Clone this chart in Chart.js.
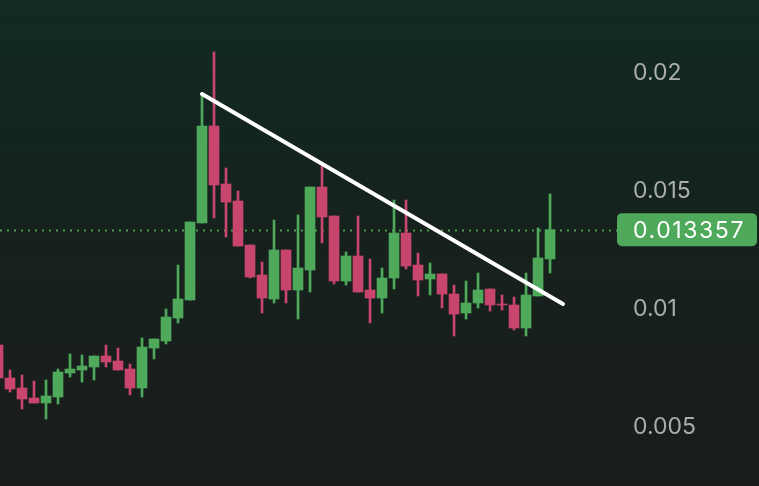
<!DOCTYPE html>
<html>
<head>
<meta charset="utf-8">
<script src="https://cdn.jsdelivr.net/npm/chart.js@4/dist/chart.umd.min.js"></script>
<style>
  html, body { margin: 0; padding: 0; background: #161d1b; }
  #wrap { width: 759px; height: 486px; position: relative; }
</style>
</head>
<body>
<div id="wrap"><canvas id="c" width="759" height="486"></canvas></div>
<script>
// ---- data ----
const opens  = [0.008465,0.007065,0.006641,0.006217,0.006005,0.006259,0.007277,0.007404,0.007532,0.007998,
                0.007786,0.007447,0.006641,0.008337,0.008634,0.009610,0.010373,0.013639,0.017752,0.015293,
                0.014572,0.012706,0.011433,0.010415,0.012493,0.010797,0.011645,0.015165,0.013935,0.011179,
                0.012239,0.010797,0.010458,0.011306,0.013214,0.011857,0.011264,0.011476,0.010627,0.009822,
                0.010246,0.010840,0.010203,0.010161,0.009186,0.010543,0.012112];
const highs  = [0.008465,0.007404,0.007192,0.006938,0.006980,0.007447,0.008083,0.008040,0.007998,0.008465,
                0.008337,0.007659,0.008761,0.008719,0.009992,0.011857,0.013681,0.019152,0.020891,0.015971,
                0.014996,0.012706,0.011985,0.013766,0.012493,0.013978,0.015165,0.016056,0.013935,0.012409,
                0.013935,0.012112,0.011730,0.014614,0.014614,0.012366,0.011942,0.011476,0.011009,0.011179,
                0.011518,0.010840,0.010585,0.010500,0.011518,0.013427,0.014868];
const lows   = [0.007065,0.006471,0.005750,0.006005,0.005326,0.005962,0.007107,0.006895,0.006980,0.007532,
                0.007404,0.006344,0.006259,0.007871,0.008507,0.009398,0.010373,0.013639,0.013851,0.013045,
                0.012663,0.011306,0.009822,0.010246,0.010246,0.009567,0.010712,0.012790,0.011052,0.011009,
                0.010712,0.009398,0.009822,0.010840,0.011688,0.010543,0.010585,0.010034,0.008846,0.009567,
                0.010034,0.009906,0.009949,0.009101,0.008846,0.010543,0.011518];
const closes = [0.007065,0.006599,0.006174,0.006005,0.006302,0.007319,0.007447,0.007574,0.007998,0.007744,
                0.007404,0.006641,0.008380,0.008719,0.009652,0.010415,0.013681,0.017752,0.015250,0.014529,
                0.012663,0.011348,0.010458,0.012493,0.010797,0.011730,0.015165,0.013893,0.011179,0.012239,
                0.010712,0.010458,0.011306,0.013214,0.011815,0.011221,0.011476,0.010627,0.009779,0.010246,
                0.010797,0.010161,0.010161,0.009186,0.010585,0.012154,0.013357];
const yTickValues = [0.005, 0.01, 0.015, 0.02];
const lastPrice = 0.013357;
const trendStart = { i: 17, v: 0.019109 };
const trendEnd   = { i: 47.08, v: 0.010203 };

// ---- styles ----
const UP = '#4ea95a';
const DOWN = '#c8466d';
const FONT = 'Inter, "Liberation Sans", sans-serif';

const idx = opens.map((_, i) => i);
const colors = idx.map(i => closes[i] >= opens[i] ? UP : DOWN);
const bodies = idx.map(i => ({ x: i, y: [opens[i], closes[i]] }));
const wicks  = idx.map(i => ({ x: i, y: [lows[i], highs[i]] }));

const bgPlugin = {
  id: 'bg',
  beforeDraw(chart) {
    const { ctx, width, height } = chart;
    const g = ctx.createLinearGradient(0, 0, 0, height);
    g.addColorStop(0, '#122a24');
    g.addColorStop(0.5, '#16211d');
    g.addColorStop(1, '#1a1c1c');
    ctx.save();
    ctx.fillStyle = g;
    ctx.fillRect(0, 0, width, height);
    ctx.restore();
  }
};

const priceLinePlugin = {
  id: 'priceLine',
  beforeDatasetsDraw(chart) {
    const { ctx, chartArea } = chart;
    const y = Math.round(chart.scales.y.getPixelForValue(lastPrice)) + 0.5;
    ctx.save();
    ctx.strokeStyle = 'rgba(78,169,90,0.9)';
    ctx.lineWidth = 2;
    ctx.setLineDash([2, 5]);
    ctx.beginPath();
    ctx.moveTo(chartArea.left, y);
    ctx.lineTo(chartArea.right, y);
    ctx.stroke();
    ctx.restore();
  },
  afterDraw(chart) {
    const { ctx, chartArea } = chart;
    const y = chart.scales.y.getPixelForValue(lastPrice);
    const x0 = chartArea.right;
    const w = 140, h = 33;
    ctx.save();
    ctx.fillStyle = UP;
    ctx.beginPath();
    ctx.roundRect(x0, y - h / 2, w, h, 5);
    ctx.fill();
    ctx.fillStyle = '#ffffff';
    ctx.font = '23px ' + FONT;
    if ('letterSpacing' in ctx) ctx.letterSpacing = '1.6px';
    ctx.textBaseline = 'middle';
    ctx.textAlign = 'left';
    ctx.fillText(lastPrice.toString(), x0 + 16, y + 1);
    ctx.restore();
  }
};

new Chart(document.getElementById('c'), {
  type: 'bar',
  data: {
    datasets: [
      {
        type: 'line',
        data: [{ x: trendStart.i, y: trendStart.v }, { x: trendEnd.i, y: trendEnd.v }],
        borderColor: '#ffffff',
        borderWidth: 4,
        borderCapStyle: 'round',
        pointRadius: 0,
        order: -1
      },
      {
        data: bodies,
        backgroundColor: colors,
        barThickness: 10,
        minBarLength: 1,
        grouped: false,
        order: 0
      },
      {
        data: wicks,
        backgroundColor: colors,
        barThickness: 2,
        grouped: false,
        order: 1
      }
    ]
  },
  options: {
    responsive: false,
    animation: false,
    events: [],
    layout: { padding: 0 },
    plugins: { legend: { display: false }, tooltip: { enabled: false } },
    scales: {
      x: {
        type: 'linear',
        display: false,
        min: 0.1667,
        max: 51.58,
        offset: false
      },
      y: {
        position: 'right',
        min: 0.002485,
        max: 0.023096,
        grid: { display: false, drawTicks: false },
        border: { display: false },
        afterFit(scale) {
          scale.width = 142;
          scale.paddingTop = 0;
          scale.paddingBottom = 0;
        },
        afterBuildTicks(scale) { scale.ticks = yTickValues.map(v => ({ value: v })); },
        ticks: {
          padding: 16,
          color: '#a9aeac',
          font: { family: FONT, size: 23 },
          callback: v => String(Number(v.toFixed(4)))
        }
      }
    }
  },
  plugins: [bgPlugin, priceLinePlugin]
});
</script>
</body>
</html>
